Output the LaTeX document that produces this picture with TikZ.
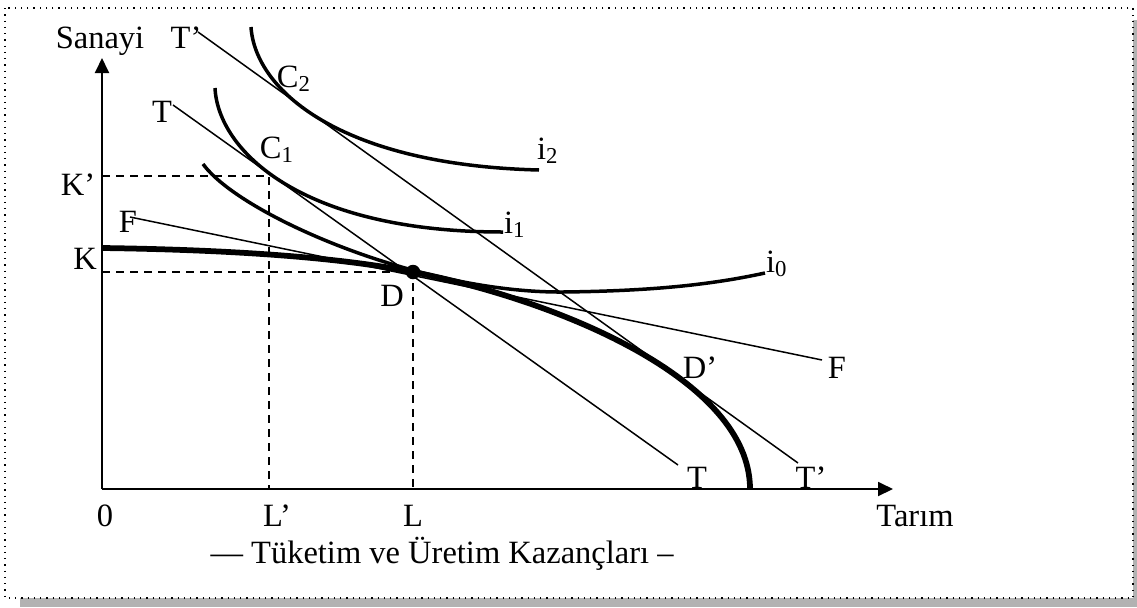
\documentclass[tikz,border=0pt]{standalone}
\usepackage{fontspec}
\setmainfont{Liberation Serif}
\usetikzlibrary{arrows.meta}
\tikzset{
  axis/.style={-{Triangle[length=6pt,width=5.6pt]},line width=0.75pt},
  tline/.style={line width=0.6pt},
  icurve/.style={line width=1.4pt},
  ppf/.style={line width=2.3pt},
  guide/.style={line width=0.6pt,dash pattern=on 3.2pt off 2.4pt},
  lbl/.style={anchor=base,inner sep=0pt,font=\fontsize{13}{15}\selectfont},
  frame/.style={dotted,line width=0.5pt},
}

\begin{document}
\begin{tikzpicture}[x=0.4pt,y=-0.4pt]
  \useasboundingbox (0,0) rectangle (1137,607);
  \fill[black!30] (20,598) rectangle (1137,607);
  \fill[black!30] (1133,20) rectangle (1137,598);
  \draw[frame] (5,8) rectangle (1133,598);

  \coordinate (O) at (102,489);
  \coordinate (ytip) at (102,58);
  \coordinate (xtip) at (893,489);
  \draw[axis] (O) -- (ytip);
  \draw[axis] (O) -- (xtip);

  \coordinate (Kp) at (102,176);
  \coordinate (C1) at (269,176);
  \coordinate (Lp) at (269,489);
  \coordinate (K) at (102,272);
  \coordinate (L) at (413,489);
  \node[circle,fill,inner sep=0pt,minimum size=5.8pt] (D) at (413,272) {};
  \draw[guide] (Kp) -- (C1) -- (Lp);
  \draw[guide] (K) -- (D.center) -- (L);

  \coordinate (Ta) at (173,105);
  \coordinate (Tb) at (678,465);
  \coordinate (Tpa) at (198,32);
  \coordinate (Tpb) at (798,463);
  \coordinate (Fa) at (130,217);
  \coordinate (Fb) at (822,360);
  \draw[tline] (Ta) -- (Tb);
  \draw[tline] (Tpa) -- (Tpb);
  \draw[tline] (Fa) -- (Fb);

  \draw[icurve] (251,27) .. controls (255,90) and (340,165) .. (539,170);
  \draw[icurve] (215,88) .. controls (218,150) and (300,232) .. (503,232);
  \draw[icurve] (203,164) .. controls (240,215) and (420,293) .. (563,292)
                          .. controls (650,291) and (710,285) .. (765,273);
  \draw[ppf] (102,248) .. controls (250,250) and (350,259.4) .. (D.center)
                       .. controls (560,301) and (750,380) .. (750,489);

  \node[lbl] (sanayi) at (100,48) {Sanayi};
  \node[lbl] (tp1) at (186,48) {T’};
  \node[lbl] (t1) at (162,122) {T};
  \node[lbl] (c2) at (294,87) {C\textsubscript{2}};
  \node[lbl] (c1) at (277,158) {C\textsubscript{1}};
  \node[lbl] (i2) at (548,159) {i\textsubscript{2}};
  \node[lbl] (i1) at (515,233) {i\textsubscript{1}};
  \node[lbl] (i0) at (777,272) {i\textsubscript{0}};
  \node[lbl] (kp) at (78,195) {K’};
  \node[lbl] (k) at (85,269) {K};
  \node[lbl] (f1) at (128,232) {F};
  \node[lbl] (d) at (392,306) {D};
  \node[lbl] (dp) at (700,378) {D’};
  \node[lbl] (f2) at (837,378) {F};
  \node[lbl] (t2) at (697,488) {T};
  \node[lbl] (tp2) at (811,488) {T’};
  \node[lbl] (o) at (105,526) {0};
  \node[lbl] (lp) at (277,526) {L’};
  \node[lbl] (l) at (413,526) {L};
  \node[lbl] (tarim) at (915,526) {Tarım};
  \node[lbl] (caption) at (442,563) {— Tüketim ve Üretim Kazançları –};
\end{tikzpicture}
\end{document}
